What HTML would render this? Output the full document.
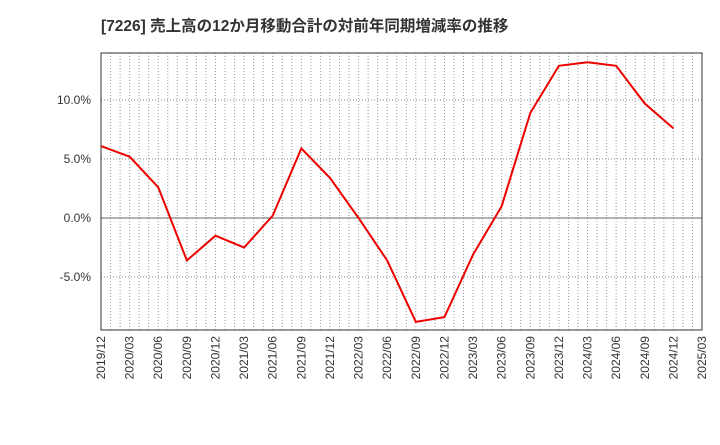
<!DOCTYPE html>
<html><head><meta charset="utf-8"><style>
body{margin:0;background:#fff;font-family:"Liberation Sans","Noto Sans CJK JP",sans-serif}
</style></head><body>
<svg id="chart" width="720" height="440" xmlns="http://www.w3.org/2000/svg" font-family="Liberation Sans, Noto Sans CJK JP, sans-serif">
<text x="101" y="31" font-size="15.5" font-weight="bold" fill="#333">[7226]  売上高の12か月移動合計の対前年同期増減率の推移</text>
<g id="grid"></g><g id="axes"></g><g id="series"></g>
</svg>
<script>
const categories=["2019/12","2020/03","2020/06","2020/09","2020/12","2021/03","2021/06","2021/09","2021/12","2022/03","2022/06","2022/09","2022/12","2023/03","2023/06","2023/09","2023/12","2024/03","2024/06","2024/09","2024/12","2025/03"];
const values=[6.1,5.2,2.6,-3.6,-1.5,-2.5,0.2,5.9,3.4,0.0,-3.6,-8.8,-8.4,-3.1,1.0,8.9,12.9,13.2,12.9,9.7,7.6];
const yTicks=[10,5,0,-5];
const yTickLabels=["10.0%","5.0%","0.0%","-5.0%"];
const NS="http://www.w3.org/2000/svg";
const L=101,R=702,T=53,B=330;
const x=i=>L+(R-L)*i/(categories.length-1);
const y=v=>218-v*11.8;
function mk(p,t,a){const e=document.createElementNS(NS,t);for(const k in a)e.setAttribute(k,a[k]);p.appendChild(e);return e;}
const g=document.getElementById('grid'),ax=document.getElementById('axes'),s=document.getElementById('series');
const nMonths=(categories.length-1)*3;
for(let m=1;m<nMonths;m++){
 const xm=L+(R-L)*m/nMonths;
 const l=mk(g,'line',{x1:xm,x2:xm,y1:T,y2:B,stroke:'#999','stroke-dasharray':'1,2'});
 
 
}
categories.forEach((c,i)=>{
 const t=mk(ax,'text',{transform:`translate(${x(i)+4},${B+6}) rotate(-90)`,'text-anchor':'end','font-size':12,fill:'#333'});
 t.textContent=c;
 
 
});
yTicks.forEach((v,i)=>{
 const l=mk(g,'line',{x1:L,x2:R,y1:y(v),y2:y(v),stroke:v===0?'#666':'#888','stroke-dasharray':v===0?'none':'1,2'});
 
 
 const t=mk(ax,'text',{x:L-10,y:y(v)+4,'text-anchor':'end','font-size':12,fill:'#333'});
 t.textContent=yTickLabels[i];
 
 
});
const f=mk(ax,'rect',{x:L,y:T,width:R-L,height:B-T,fill:'none',stroke:'#333'});


const p=mk(s,'polyline',{points:values.map((v,i)=>x(i)+','+y(v)).join(' '),fill:'none',stroke:'#e00','stroke-width':2});


</script>
</body></html>
